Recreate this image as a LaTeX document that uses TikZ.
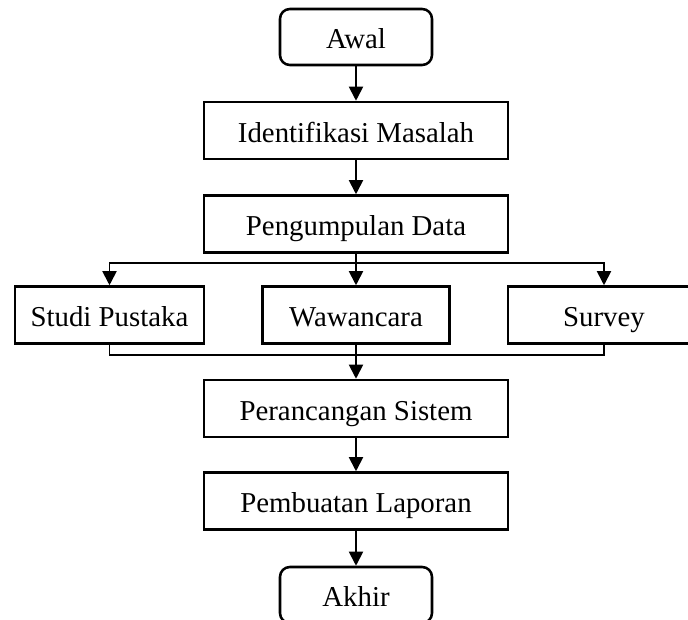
\documentclass[tikz,border=0pt]{standalone}
\usepackage{fontspec}
\setmainfont{Liberation Serif}
\usetikzlibrary{arrows.meta}

\begin{document}
\begin{tikzpicture}[
		caixa/.style={draw, line width=1.8pt, minimum width=7.6cm, minimum height=1.425cm, inner sep=0pt, text height=18pt, text depth=1.6pt},
		terminal/.style={caixa, rounded corners=7pt, minimum width=3.8cm, minimum height=1.4cm},
		seta/.style={-{Triangle[length=10pt,width=10pt]}, line width=1.3pt},
		linha/.style={line width=1.3pt},
		font=\fontsize{20.5}{24}\selectfont
	]
		\useasboundingbox (0,0) rectangle (17.2,15.5);						% Margens

		% Etapas
		\node[terminal] (awal) at (8.9,14.575) 			{Awal};
		\node[caixa] (identifikasi) at (8.9,12.2375) 	{Identifikasi Masalah};
		\node[caixa] (pengumpulan) at (8.9,9.9) 		{Pengumpulan Data};

		\node[caixa, minimum width=4.725cm] (studi) at (2.7375,7.625) 		{Studi Pustaka};
		\node[caixa, minimum width=4.675cm] (wawancara) at (8.9,7.625) 	{Wawancara};
		\node[caixa, minimum width=4.8cm] (survey) at (15.1,7.625) 		{Survey};

		\node[caixa] (perancangan) at (8.9,5.2875) 		{Perancangan Sistem};
		\node[caixa] (pembuatan) at (8.9,2.975) 		{Pembuatan Laporan};
		\node[terminal] (akhir) at (8.9,0.625) 			{Akhir};

		\coordinate (bagi) at (8.9,8.925);									% Divisão
		\coordinate (junta) at (8.9,6.625);									% Junção

		% Setas
		\draw[seta] (awal) -- (identifikasi);
		\draw[seta] (identifikasi) -- (pengumpulan);
		\draw[linha] (pengumpulan) -- (bagi);
		\draw[seta] (bagi) -| (studi);
		\draw[seta] (bagi) -- (wawancara);
		\draw[seta] (bagi) -| (survey);
		\draw[linha] (studi) |- (junta);
		\draw[linha] (survey) |- (junta);
		\draw[seta] (wawancara) -- (perancangan);
		\draw[seta] (perancangan) -- (pembuatan);
		\draw[seta] (pembuatan) -- (akhir);
	\end{tikzpicture}
\end{document}
